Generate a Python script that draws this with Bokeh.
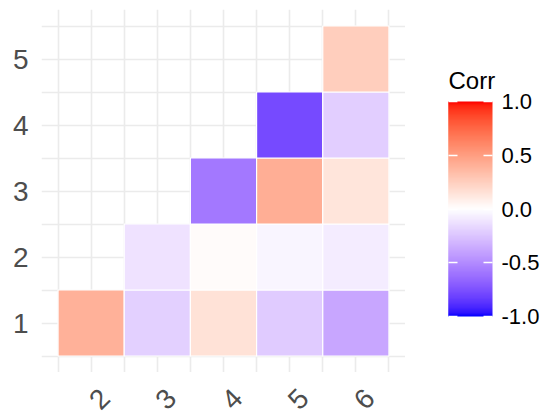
import math
import numpy as np
from bokeh.plotting import figure
from bokeh.layouts import row, column
from bokeh.models import (Range1d, FixedTicker, LinearColorMapper, ColorBar,
                          ColumnDataSource, PrintfTickFormatter)
from bokeh.transform import transform
from bokeh.core.properties import value
from bokeh.embed import file_html
from bokeh.resources import INLINE

# ---------------- data ----------------
x_labels = ["2", "3", "4", "5", "6"]
y_labels = ["1", "2", "3", "4", "5"]
cell_x = [2, 3, 3, 4, 4, 4, 5, 5, 5, 5, 6, 6, 6, 6, 6]
cell_y = [1, 1, 2, 1, 2, 3, 1, 2, 3, 4, 1, 2, 3, 4, 5]
corr = [0.40,
        -0.20, -0.12,
        0.15, 0.02, -0.58,
        -0.22, -0.04, 0.42, -0.78,
        -0.38, -0.08, 0.14, -0.21, 0.25]
legend_title = "Corr"
legend_ticks = [-1.0, -0.5, 0.0, 0.5, 1.0]
low_col, mid_col, high_col = "#0000FF", "#FFFFFF", "#FF0000"

# ------------- Lab gradient (like scale_fill_gradient2) -------------
WHITE = (0.95047, 1.0, 1.08883)

def hex_to_rgb(h):
    h = h.lstrip("#")
    return [int(h[i:i + 2], 16) / 255 for i in (0, 2, 4)]

def srgb_to_lin(c):
    return c / 12.92 if c <= 0.04045 else ((c + 0.055) / 1.055) ** 2.4

def lin_to_srgb(c):
    c = min(max(c, 0.0), 1.0)
    return 12.92 * c if c <= 0.0031308 else 1.055 * c ** (1 / 2.4) - 0.055

def rgb_to_lab(h):
    r, g, b = [srgb_to_lin(c) for c in hex_to_rgb(h)]
    X = 0.4124564 * r + 0.3575761 * g + 0.1804375 * b
    Y = 0.2126729 * r + 0.7151522 * g + 0.0721750 * b
    Z = 0.0193339 * r + 0.1191920 * g + 0.9503041 * b
    def f(t):
        return t ** (1 / 3) if t > 216 / 24389 else (24389 / 27 * t + 16) / 116
    fx, fy, fz = f(X / WHITE[0]), f(Y / WHITE[1]), f(Z / WHITE[2])
    return (116 * fy - 16, 500 * (fx - fy), 200 * (fy - fz))

def lab_to_hex(L, a, b):
    fy = (L + 16) / 116
    fx = fy + a / 500
    fz = fy - b / 200
    def finv(t):
        return t ** 3 if t ** 3 > 216 / 24389 else (116 * t - 16) / (24389 / 27)
    X, Y, Z = finv(fx) * WHITE[0], finv(fy) * WHITE[1], finv(fz) * WHITE[2]
    r = 3.2404542 * X - 1.5371385 * Y - 0.4985314 * Z
    g = -0.9692660 * X + 1.8760108 * Y + 0.0415560 * Z
    bb = 0.0556434 * X - 0.2040259 * Y + 1.0572252 * Z
    return "#%02X%02X%02X" % tuple(int(round(lin_to_srgb(c) * 255)) for c in (r, g, bb))

lab_lo, lab_mid, lab_hi = rgb_to_lab(low_col), rgb_to_lab(mid_col), rgb_to_lab(high_col)
palette = []
for v in np.linspace(-1, 1, 256):
    if v < 0:
        a_, b_, t = lab_mid, lab_lo, -v
    else:
        a_, b_, t = lab_mid, lab_hi, v
    palette.append(lab_to_hex(*[a_[i] + (b_[i] - a_[i]) * t for i in range(3)]))

mapper = LinearColorMapper(palette=palette, low=-1, high=1)
FONT = "Liberation Sans"

# ---------------- main heatmap ----------------
p = figure(width=405, height=372,
           x_range=Range1d(1.25, 6.75), y_range=Range1d(0.25, 5.75),
           output_backend="svg", toolbar_location=None,
           min_border_left=41, min_border_top=9, min_border_right=0,
           min_border_bottom=0)
p.outline_line_color = None
p.background_fill_color = "white"

src = ColumnDataSource(dict(x=cell_x, y=cell_y, corr=corr))
p.rect(x="x", y="y", width=1, height=1, source=src,
       fill_color=transform("corr", mapper), line_color="white", line_width=1.2)

half_x = [v / 2 for v in range(3, 14)]
half_y = [v / 2 for v in range(1, 12)]
p.xgrid.ticker = FixedTicker(ticks=half_x)
p.ygrid.ticker = FixedTicker(ticks=half_y)
for g in (p.xgrid, p.ygrid):
    g.grid_line_color = "#EBEBEB"
    g.grid_line_width = 1.6

p.yaxis.ticker = FixedTicker(ticks=[int(s) for s in y_labels])
p.yaxis.major_label_overrides = {int(s): s for s in y_labels}
ax = p.yaxis[0]
ax.axis_line_color = None
ax.major_tick_line_color = None
ax.minor_tick_line_color = None
ax.major_tick_out = 0
ax.major_tick_in = 0
ax.major_label_text_font = FONT
ax.major_label_text_font_size = "28px"
ax.major_label_text_color = "#4D4D4D"
ax.major_label_standoff = 13
p.xaxis.visible = False

# ---------------- rotated x tick labels (strip under the heatmap) ----------------
px = figure(width=405, height=43, x_range=p.x_range, y_range=Range1d(0, 1),
            output_backend="svg", toolbar_location=None,
            x_axis_type=None, y_axis_type=None,
            min_border_left=41, min_border_top=0, min_border_right=0,
            min_border_bottom=0)
px.outline_line_color = None
px.grid.visible = False
xlab_src = ColumnDataSource(dict(x=[int(s) for s in x_labels],
                                 y=[px.y_range.end] * len(x_labels),
                                 text=x_labels))
px.text(x="x", y="y", text="text", source=xlab_src, angle=math.pi / 4,
        text_align="left", text_baseline="middle", x_offset=3, y_offset=32,
        text_font=value(FONT), text_font_size="28px", text_color="#4D4D4D")

# ---------------- colour bar legend ----------------
pl = figure(width=138, height=415, x_range=Range1d(0, 1), y_range=Range1d(0, 1),
            output_backend="svg", toolbar_location=None,
            x_axis_type=None, y_axis_type=None,
            min_border_left=43, min_border_top=95, min_border_right=0,
            min_border_bottom=0, title=legend_title)
pl.outline_line_color = None
pl.grid.visible = False
pl.title.text_font = FONT
pl.title.text_font_size = "24px"
pl.title.text_font_style = "normal"
pl.title.text_color = "black"
pl.title.align = "left"
pl.title.offset = 0
pl.title.standoff = 4

cb = ColorBar(color_mapper=mapper, orientation="vertical", width=44, height=215,
              location=(0, 99), margin=0, padding=0,
              ticker=FixedTicker(ticks=legend_ticks),
              formatter=PrintfTickFormatter(format="%.1f"),
              major_label_text_font=FONT, major_label_text_font_size="22px",
              major_label_text_color="black", label_standoff=9,
              major_tick_line_color="white", major_tick_line_width=1.5,
              major_tick_in=9, major_tick_out=0,
              bar_line_color=None, border_line_color=None,
              background_fill_color=None)
pl.add_layout(cb, "center")

# narrow overlay of the same scale so the white ticks also show on the bar's left edge
cb_left = ColorBar(color_mapper=mapper, orientation="vertical", width=9, height=215,
                   location=(0, 99), margin=0, padding=0,
                   ticker=FixedTicker(ticks=legend_ticks),
                   major_label_overrides={t: "" for t in legend_ticks},
                   major_label_text_font_size="0px", label_standoff=0,
                   major_tick_line_color="white", major_tick_line_width=1.5,
                   major_tick_in=9, major_tick_out=0,
                   bar_line_color=None, border_line_color=None,
                   background_fill_color=None)
pl.add_layout(cb_left, "center")

layout = row(column(p, px), pl)
open("out.html", "w").write(file_html(layout, INLINE))
